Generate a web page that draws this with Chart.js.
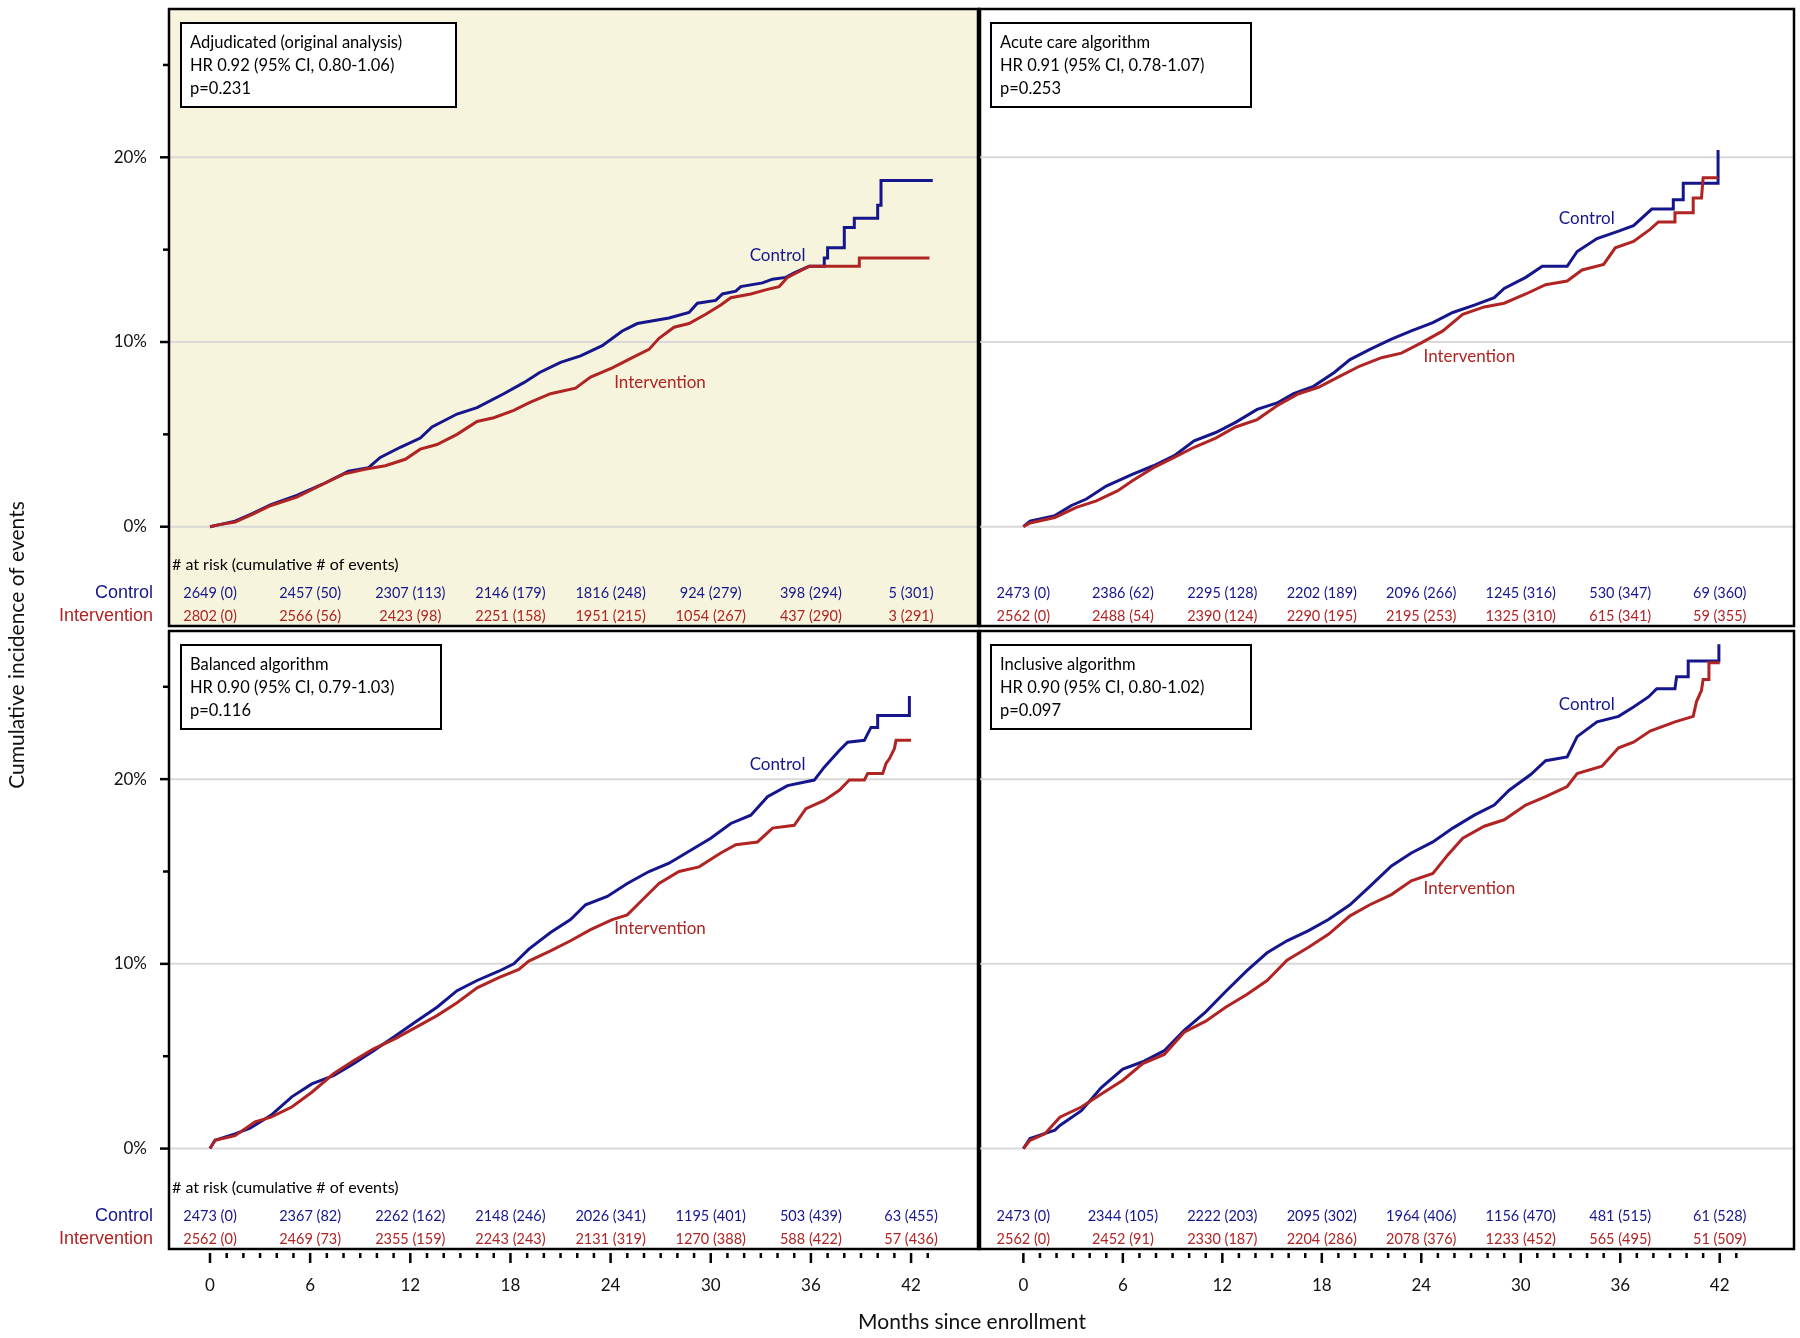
<!DOCTYPE html>
<html>
<head>
<meta charset="utf-8">
<script src="https://cdn.jsdelivr.net/npm/chart.js@4.4.1/dist/chart.umd.min.js"></script>
<style>
  html, body { margin: 0; padding: 0; background: #fff; }
  #wrap { position: relative; width: 1800px; height: 1338px; }
  canvas { position: absolute; left: 0; top: 0; }
</style>
</head>
<body>
<div id="wrap">
  <canvas id="tl" width="1800" height="1338"></canvas>
  <canvas id="tr" width="1800" height="1338"></canvas>
  <canvas id="bl" width="1800" height="1338"></canvas>
  <canvas id="br" width="1800" height="1338"></canvas>
</div>
<script>
// ---- data (months since enrollment, cumulative incidence %) ----
// repeated months mark the big late steps
const tickMonths = [0, 6, 12, 18, 24, 30, 36, 42]
const yTicks = [0, 5, 10, 15, 20, 25]
const yLabelled = [0, 10, 20]

// Adjudicated (original analysis)
const tlCtrlMonths = [0, 0.5, 1.5, 2.5, 3.65, 5.2, 6.75, 8.3, 9.5, 10.2, 11.4, 12.6, 13.3, 14.8, 16.0, 17.6, 18.8, 19.75, 21.0, 22.2, 23.5, 24.7, 25.6, 27.5, 28.7, 29.2, 30.3, 30.7, 31.5, 31.8, 33.1, 33.7, 34.5, 35.0, 35.9, 36.8, 36.8, 37.0, 37.0, 38.0, 38.0, 38.6, 38.6, 40.0, 40.0, 40.2, 40.2, 43.3]
const tlCtrlPct    = [0, 0.1, 0.3, 0.7, 1.2, 1.7, 2.3, 3.0, 3.2, 3.75, 4.3, 4.8, 5.4, 6.1, 6.45, 7.2, 7.8, 8.35, 8.9, 9.25, 9.8, 10.6, 11.0, 11.3, 11.6, 12.1, 12.25, 12.6, 12.75, 13.0, 13.2, 13.4, 13.5, 13.75, 14.1, 14.1, 14.55, 14.55, 15.1, 15.1, 16.2, 16.2, 16.7, 16.7, 17.4, 17.4, 18.75, 18.75]
const tlIntMonths  = [0, 0.5, 1.5, 2.5, 3.65, 5.2, 6.75, 8.0, 9.2, 10.5, 11.7, 12.6, 13.6, 14.8, 16.0, 17.0, 18.2, 19.1, 20.4, 21.9, 22.8, 24.1, 25.3, 26.3, 26.9, 27.8, 28.7, 29.7, 30.6, 31.2, 32.4, 33.4, 34.1, 34.6, 35.9, 38.9, 38.9, 43.1]
const tlIntPct     = [0, 0.1, 0.25, 0.65, 1.15, 1.6, 2.3, 2.85, 3.1, 3.3, 3.65, 4.2, 4.45, 5.0, 5.7, 5.9, 6.3, 6.7, 7.2, 7.5, 8.1, 8.6, 9.15, 9.6, 10.2, 10.8, 11.0, 11.5, 12.0, 12.4, 12.6, 12.85, 13.0, 13.5, 14.1, 14.1, 14.55, 14.55]
const tlRiskCtrl = [[2649, 0], [2457, 50], [2307, 113], [2146, 179], [1816, 248], [924, 279], [398, 294], [5, 301]]
const tlRiskInt  = [[2802, 0], [2566, 56], [2423, 98], [2251, 158], [1951, 215], [1054, 267], [437, 290], [3, 291]]

// Acute care algorithm
const trCtrlMonths = [0, 0.4, 1.9, 2.9, 3.8, 5.0, 6.6, 7.85, 9.1, 10.3, 11.6, 12.8, 14.1, 15.3, 16.3, 17.5, 18.75, 19.7, 20.9, 22.2, 23.4, 24.7, 25.9, 27.2, 28.4, 29.0, 30.3, 31.3, 32.8, 33.4, 34.6, 35.9, 36.8, 37.9, 39.2, 39.2, 39.8, 39.8, 41.9, 41.9]
const trCtrlPct    = [0, 0.3, 0.6, 1.15, 1.5, 2.2, 2.85, 3.3, 3.85, 4.65, 5.1, 5.65, 6.35, 6.7, 7.2, 7.6, 8.35, 9.05, 9.6, 10.15, 10.6, 11.05, 11.6, 12.0, 12.4, 12.9, 13.5, 14.1, 14.1, 14.9, 15.6, 16.0, 16.3, 17.2, 17.2, 17.7, 17.7, 18.6, 18.6, 20.4]
const trIntMonths  = [0, 0.4, 1.9, 3.2, 4.4, 5.7, 6.6, 7.85, 9.1, 10.3, 11.6, 12.8, 14.1, 15.3, 16.6, 17.8, 19.1, 20.3, 21.6, 22.8, 24.0, 25.3, 26.5, 27.8, 29.0, 30.3, 31.5, 32.8, 33.7, 35.0, 35.7, 36.8, 37.8, 38.3, 39.3, 39.3, 40.4, 40.4, 40.9, 41.0, 41.9]
const trIntPct     = [0, 0.2, 0.5, 1.05, 1.4, 1.95, 2.5, 3.2, 3.75, 4.3, 4.8, 5.4, 5.8, 6.55, 7.2, 7.55, 8.15, 8.7, 9.15, 9.4, 9.95, 10.6, 11.5, 11.9, 12.1, 12.6, 13.1, 13.3, 13.9, 14.2, 15.1, 15.45, 16.1, 16.5, 16.5, 17.0, 17.0, 17.8, 17.8, 18.9, 18.9]
const trRiskCtrl = [[2473, 0], [2386, 62], [2295, 128], [2202, 189], [2096, 266], [1245, 316], [530, 347], [69, 360]]
const trRiskInt  = [[2562, 0], [2488, 54], [2390, 124], [2290, 195], [2195, 253], [1325, 310], [615, 341], [59, 355]]

// Balanced algorithm
const blCtrlMonths = [0, 0.3, 1.5, 2.4, 3.65, 4.9, 6.1, 7.4, 8.6, 9.8, 11.1, 12.3, 13.6, 14.8, 16.0, 17.3, 18.2, 19.1, 20.4, 21.6, 22.5, 23.8, 25.0, 26.3, 27.5, 28.7, 30.0, 31.2, 32.4, 33.4, 34.6, 36.2, 36.8, 37.7, 38.2, 39.2, 39.6, 40.0, 40.0, 41.9, 41.9]
const blCtrlPct    = [0, 0.45, 0.8, 1.1, 1.8, 2.8, 3.5, 3.95, 4.6, 5.3, 6.1, 6.85, 7.65, 8.55, 9.1, 9.6, 10.0, 10.8, 11.7, 12.4, 13.2, 13.65, 14.35, 15.0, 15.45, 16.1, 16.8, 17.6, 18.05, 19.05, 19.65, 19.95, 20.65, 21.55, 22.0, 22.1, 22.8, 22.8, 23.45, 23.45, 24.5]
const blIntMonths  = [0, 0.3, 1.5, 2.7, 3.65, 4.9, 6.1, 7.4, 8.6, 9.8, 11.1, 12.3, 13.6, 14.8, 16.0, 17.3, 18.5, 19.1, 20.4, 21.6, 22.8, 24.1, 25.0, 26.0, 26.9, 28.1, 29.3, 30.6, 31.5, 32.8, 33.7, 35.0, 35.7, 36.8, 37.7, 38.3, 39.2, 39.4, 40.3, 40.5, 40.7, 41.0, 41.1, 42.0]
const blIntPct     = [0, 0.45, 0.7, 1.45, 1.7, 2.25, 3.05, 4.05, 4.75, 5.4, 5.95, 6.55, 7.2, 7.9, 8.7, 9.25, 9.7, 10.15, 10.7, 11.25, 11.85, 12.4, 12.65, 13.55, 14.35, 15.0, 15.25, 16.0, 16.45, 16.6, 17.35, 17.5, 18.4, 18.85, 19.4, 19.95, 19.95, 20.3, 20.3, 20.85, 21.1, 21.65, 22.1, 22.1]
const blRiskCtrl = [[2473, 0], [2367, 82], [2262, 162], [2148, 246], [2026, 341], [1195, 401], [503, 439], [63, 455]]
const blRiskInt  = [[2562, 0], [2469, 73], [2355, 159], [2243, 243], [2131, 319], [1270, 388], [588, 422], [57, 436]]

// Inclusive algorithm
const brCtrlMonths = [0, 0.4, 1.9, 2.2, 3.5, 4.7, 6.0, 7.2, 8.5, 9.7, 11.0, 12.2, 13.5, 14.7, 15.9, 17.2, 18.4, 19.7, 20.9, 22.2, 23.4, 24.7, 25.9, 27.2, 28.4, 29.3, 30.6, 31.5, 32.8, 33.4, 34.6, 35.9, 36.8, 37.7, 38.2, 39.3, 39.4, 40.1, 40.1, 41.95, 41.95]
const brCtrlPct    = [0, 0.55, 1.0, 1.25, 2.05, 3.3, 4.3, 4.7, 5.3, 6.4, 7.4, 8.5, 9.65, 10.6, 11.25, 11.8, 12.4, 13.2, 14.2, 15.3, 16.0, 16.6, 17.35, 18.05, 18.6, 19.4, 20.25, 21.0, 21.2, 22.3, 23.1, 23.4, 23.9, 24.45, 24.9, 24.9, 25.55, 25.55, 26.4, 26.4, 27.3]
const brIntMonths  = [0, 0.4, 1.3, 2.2, 3.5, 4.7, 6.0, 7.2, 8.5, 9.7, 11.0, 12.2, 13.5, 14.7, 15.9, 17.2, 18.4, 19.7, 20.9, 22.2, 23.4, 24.7, 25.6, 26.5, 27.8, 29.0, 30.3, 31.5, 32.8, 33.4, 34.9, 35.9, 36.8, 37.8, 39.3, 40.4, 40.6, 40.9, 41.0, 41.35, 41.35, 42.0]
const brIntPct     = [0, 0.45, 0.8, 1.7, 2.25, 2.95, 3.7, 4.6, 5.1, 6.3, 6.9, 7.65, 8.35, 9.1, 10.2, 10.9, 11.6, 12.6, 13.2, 13.75, 14.5, 14.9, 15.9, 16.8, 17.45, 17.8, 18.6, 19.05, 19.6, 20.3, 20.7, 21.7, 22.0, 22.6, 23.1, 23.4, 24.2, 24.8, 25.4, 25.4, 26.3, 26.3]
const brRiskCtrl = [[2473, 0], [2344, 105], [2222, 203], [2095, 302], [1964, 406], [1156, 470], [481, 515], [61, 528]]
const brRiskInt  = [[2562, 0], [2452, 91], [2330, 187], [2204, 286], [2078, 376], [1233, 452], [565, 495], [51, 509]]

const BLUE = '#16168c'
const RED = '#b02424'
const FONT = 'Lato, "Noto Sans", sans-serif'

// panel layout: box in page pixels, axis ranges chosen so 0..42 months and 0..20% land where the original has them
const panels = {
  tl: { box: [169, 9, 979, 626], xr: [-2.456, 46.07], yr: [-5.376, 28.03], bg: '#f6f4dc',
        info: ['Adjudicated (original analysis)', 'HR 0.92 (95% CI, 0.80-1.06)', 'p=0.231'], infoW: 275,
        ctrl: [tlCtrlMonths, tlCtrlPct], int: [tlIntMonths, tlIntPct], risk: [tlRiskCtrl, tlRiskInt],
        ctrlLabel: [34.0, 14.7], intLabel: [26.96, 7.83], left: true, bottom: false },
  tr: { box: [979, 9, 1794, 626], xr: [-2.676, 46.48], yr: [-5.376, 28.03], bg: null,
        info: ['Acute care algorithm', 'HR 0.91 (95% CI, 0.78-1.07)', 'p=0.253'], infoW: 260,
        ctrl: [trCtrlMonths, trCtrlPct], int: [trIntMonths, trIntPct], risk: [trRiskCtrl, trRiskInt],
        ctrlLabel: [33.98, 16.66], intLabel: [26.9, 9.19], left: false, bottom: false },
  bl: { box: [169, 631, 979, 1249], xr: [-2.456, 46.07], yr: [-5.436, 28.02], bg: null,
        info: ['Balanced algorithm', 'HR 0.90 (95% CI, 0.79-1.03)', 'p=0.116'], infoW: 260,
        ctrl: [blCtrlMonths, blCtrlPct], int: [blIntMonths, blIntPct], risk: [blRiskCtrl, blRiskInt],
        ctrlLabel: [34.0, 20.77], intLabel: [26.96, 11.89], left: true, bottom: true },
  br: { box: [979, 631, 1794, 1249], xr: [-2.676, 46.48], yr: [-5.436, 28.02], bg: null,
        info: ['Inclusive algorithm', 'HR 0.90 (95% CI, 0.80-1.02)', 'p=0.097'], infoW: 260,
        ctrl: [brCtrlMonths, brCtrlPct], int: [brIntMonths, brIntPct], risk: [brRiskCtrl, brRiskInt],
        ctrlLabel: [33.98, 24.02], intLabel: [26.9, 14.06], left: false, bottom: true }
}

function toPoints(months, pct){
    return months.map((m, i) => ({x: m, y: pct[i]}))
}

function text(ctx, str, x, y, font, color, align){
    ctx.font = font
    ctx.fillStyle = color
    ctx.textAlign = align || 'left'
    ctx.textBaseline = 'middle'
    ctx.fillText(str, x, y)
}

function line(ctx, x1, y1, x2, y2){
    ctx.beginPath()
    ctx.moveTo(x1, y1)
    ctx.lineTo(x2, y2)
    ctx.stroke()
}

const decor = {
    id: 'decor',
    beforeDatasetsDraw(chart){
        const p = panels[chart.canvas.id]
        const {ctx, chartArea: a} = chart
        const y = chart.scales.y
        ctx.save()
        if(p.bg){
            ctx.fillStyle = p.bg
            ctx.fillRect(a.left, a.top, a.right - a.left, a.bottom - a.top)
        }
        // light reference lines at 0, 10, 20 %
        ctx.strokeStyle = '#d9d9d9'
        ctx.lineWidth = 2
        yLabelled.forEach(v => line(ctx, a.left, y.getPixelForValue(v), a.right, y.getPixelForValue(v)))
        ctx.restore()
    },
    afterDatasetsDraw(chart){
        const p = panels[chart.canvas.id]
        const {ctx, chartArea: a} = chart
        const x = chart.scales.x, y = chart.scales.y
        ctx.save()

        // HR box
        const bx = a.left + 12, by = a.top + 14
        ctx.fillStyle = '#fff'
        ctx.fillRect(bx, by, p.infoW, 84)
        ctx.strokeStyle = '#000'
        ctx.lineWidth = 2
        ctx.strokeRect(bx, by, p.infoW, 84)
        p.info.forEach((s, i) => text(ctx, s, bx + 9, by + 20 + i * 23, '16.5px ' + FONT, '#000'))

        // curve labels
        text(ctx, 'Control', x.getPixelForValue(p.ctrlLabel[0]), y.getPixelForValue(p.ctrlLabel[1]), '17px ' + FONT, BLUE, 'center')
        text(ctx, 'Intervention', x.getPixelForValue(p.intLabel[0]), y.getPixelForValue(p.intLabel[1]), '17px ' + FONT, RED, 'center')

        // numbers at risk
        if(p.left){
            text(ctx, '# at risk (cumulative # of events)', a.left + 3, a.bottom - 61, '16px ' + FONT, '#000')
            text(ctx, 'Control', 153, a.bottom - 33, '18px "Liberation Sans", Arial, sans-serif', BLUE, 'right')
            text(ctx, 'Intervention', 153, a.bottom - 10, '18px "Liberation Sans", Arial, sans-serif', RED, 'right')
        }
        tickMonths.forEach((m, i) => {
            const px = x.getPixelForValue(m)
            const c = p.risk[0][i], v = p.risk[1][i]
            text(ctx, c[0] + ' (' + c[1] + ')', px, a.bottom - 33, '14.5px ' + FONT, BLUE, 'center')
            text(ctx, v[0] + ' (' + v[1] + ')', px, a.bottom - 10, '14.5px ' + FONT, RED, 'center')
        })

        // panel frame
        ctx.strokeStyle = '#000'
        ctx.lineWidth = 2.5
        ctx.strokeRect(a.left, a.top, a.right - a.left, a.bottom - a.top)
        if(p.left){
            ctx.lineWidth = 4.5
            line(ctx, a.right, a.top, a.right, a.bottom)
        }

        // y axis ticks (left panels)
        if(p.left){
            ctx.lineWidth = 2.5
            yTicks.forEach(v => {
                const py = y.getPixelForValue(v)
                const major = yLabelled.includes(v)
                line(ctx, a.left - (major ? 9 : 6), py, a.left, py)
                if(major) text(ctx, v + '%', a.left - 22, py, '17px ' + FONT, '#111', 'right')
            })
        }

        // x axis ticks (bottom panels)
        if(p.bottom){
            ctx.lineWidth = 2.5
            for(let m = 0; m <= 43; m++){
                const px = x.getPixelForValue(m)
                const major = m % 6 === 0
                line(ctx, px, a.bottom + 4, px, a.bottom + (major ? 14 : 9))
                if(major) text(ctx, String(m), px, a.bottom + 37, '17px ' + FONT, '#111', 'center')
            }
        }
        ctx.restore()
    }
}

function makeChart(id){
    const p = panels[id]
    return new Chart(document.getElementById(id), {
        type: 'line',
        data: {
            datasets: [{
                label: 'Intervention',
                data: toPoints(p.int[0], p.int[1]),
                borderColor: RED,
                borderWidth: 3,
                tension: 0,
                pointRadius: 0,
                fill: false
            }, {
                label: 'Control',
                data: toPoints(p.ctrl[0], p.ctrl[1]),
                borderColor: BLUE,
                borderWidth: 3,
                tension: 0,
                pointRadius: 0,
                fill: false
            }]
        },
        options: {
            responsive: false,
            animation: false,
            devicePixelRatio: 1,
            events: [],
            layout: { padding: { left: p.box[0], top: p.box[1], right: 1800 - p.box[2], bottom: 1338 - p.box[3] } },
            scales: {
                x: { type: 'linear', min: p.xr[0], max: p.xr[1], display: false },
                y: { type: 'linear', min: p.yr[0], max: p.yr[1], display: false }
            },
            plugins: { legend: { display: false }, tooltip: { enabled: false } }
        },
        plugins: [decor]
    })
}

['tl', 'tr', 'bl', 'br'].forEach(makeChart)

// axis titles (shared by all four panels)
const titleCanvas = document.createElement('canvas')
titleCanvas.width = 1800
titleCanvas.height = 1338
document.getElementById('wrap').appendChild(titleCanvas)
const tctx = titleCanvas.getContext('2d')
text(tctx, 'Months since enrollment', 972, 1322, '21px ' + FONT, '#111', 'center')
tctx.save()
tctx.translate(17, 645)
tctx.rotate(-Math.PI / 2)
text(tctx, 'Cumulative incidence of events', 0, 0, '21px ' + FONT, '#111', 'center')
tctx.restore()
</script>
</body>
</html>
